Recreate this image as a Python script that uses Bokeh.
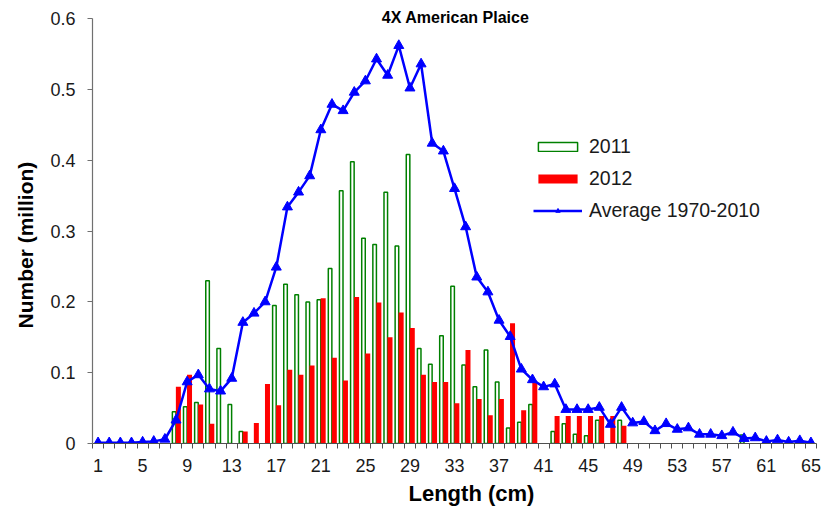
from bokeh.plotting import figure
from bokeh.models import ColumnDataSource, FixedTicker, Legend, LegendItem, Label, Range1d, Title
from bokeh.transform import dodge
from bokeh.embed import file_html
from bokeh.resources import INLINE

# ---------------- data ----------------
lengths = list(range(1, 66))

avg_1970_2010 = [0.001, 0.001, 0.001, 0.001, 0.002, 0.003, 0.006, 0.033, 0.087, 0.097,
                 0.077, 0.074, 0.092, 0.171, 0.184, 0.200, 0.249, 0.334, 0.355, 0.378,
                 0.443, 0.479, 0.470, 0.496, 0.512, 0.543, 0.520, 0.562, 0.502, 0.536,
                 0.424, 0.413, 0.360, 0.306, 0.235, 0.214, 0.174, 0.151, 0.105, 0.090,
                 0.080, 0.084, 0.048, 0.048, 0.048, 0.051, 0.027, 0.051, 0.029, 0.031,
                 0.018, 0.028, 0.020, 0.022, 0.013, 0.013, 0.011, 0.016, 0.007, 0.008,
                 0.003, 0.005, 0.002, 0.004, 0.001]

n_2011 = [0, 0, 0, 0, 0, 0, 0, 0.045, 0.052, 0.058,
          0.230, 0.134, 0.055, 0.017, 0, 0, 0.195, 0.225, 0.210, 0.200,
          0.203, 0.247, 0.357, 0.398, 0.290, 0.281, 0.355, 0.279, 0.408, 0.134,
          0.112, 0.152, 0.222, 0.111, 0.080, 0.132, 0.087, 0.022, 0.030, 0.055,
          0, 0.017, 0.028, 0.013, 0.011, 0.033, 0, 0.033, 0, 0,
          0, 0, 0, 0, 0, 0, 0, 0, 0.012, 0,
          0, 0, 0, 0, 0]

n_2012 = [0, 0, 0, 0, 0, 0, 0, 0.080, 0.097, 0.055,
          0.028, 0, 0, 0.017, 0.029, 0.084, 0.054, 0.104, 0.097, 0.110,
          0.205, 0.121, 0.089, 0.207, 0.127, 0.199, 0.150, 0.185, 0.163, 0.097,
          0.087, 0.087, 0.057, 0.132, 0.063, 0.040, 0.063, 0.170, 0.047, 0.087,
          0, 0.039, 0.039, 0.039, 0.039, 0.039, 0.039, 0.025, 0, 0,
          0, 0, 0, 0, 0, 0, 0, 0, 0, 0,
          0, 0, 0, 0, 0]

x_tick_labels = [1, 5, 9, 13, 17, 21, 25, 29, 33, 37, 41, 45, 49, 53, 57, 61, 65]
y_ticks = [0, 0.1, 0.2, 0.3, 0.4, 0.5, 0.6]

title_text = "4X American Plaice"
x_title = "Length (cm)"
y_title = "Number (million)"
series_names = ["2011", "2012", "Average 1970-2010"]

FONT = "Liberation Sans"

# ---------------- figure ----------------
p = figure(width=821, height=512, output_backend="svg", toolbar_location=None,
           x_range=Range1d(0.5, 65.5), y_range=Range1d(0, 0.62),
           min_border_left=92, min_border_right=5, min_border_top=4, min_border_bottom=69)
p.outline_line_color = None
p.xgrid.grid_line_color = None
p.ygrid.grid_line_color = None
p.background_fill_color = "white"
p.border_fill_color = "white"

src11 = ColumnDataSource(dict(
    x=[l for l, v in zip(lengths, n_2011) if v > 0],
    top=[v for v in n_2011 if v > 0]))
src12 = ColumnDataSource(dict(
    x=[l for l, v in zip(lengths, n_2012) if v > 0],
    top=[v for v in n_2012 if v > 0]))

r11 = p.vbar(x=dodge("x", -0.17, range=p.x_range), top="top", width=0.32, source=src11,
             fill_color="white", line_color="#008000", line_width=1.5)
r12 = p.vbar(x=dodge("x", 0.21, range=p.x_range), top="top", width=0.45, source=src12,
             fill_color="#FF0000", line_color=None)

rl = p.line(lengths, avg_1970_2010, line_color="#0000FF", line_width=2.5)
rs = p.scatter(lengths, avg_1970_2010, marker="triangle", size=10,
               fill_color="#0000FF", line_color="#0000FF")

legend = Legend(items=[LegendItem(label=series_names[0], renderers=[r11]),
                       LegendItem(label=series_names[1], renderers=[r12]),
                       LegendItem(label=series_names[2], renderers=[rl, rs])],
                location=(441, 221), orientation="vertical",
                glyph_width=49, glyph_height=11, label_height=20, spacing=9,
                padding=0, margin=0, label_standoff=7,
                label_text_font=FONT, label_text_font_size="19.5px",
                label_text_color="#1a1a1a",
                border_line_color=None, background_fill_alpha=0)
p.add_layout(legend)

# title inside the plot area
p.add_layout(Label(x=33.1, y=0.6, text=title_text, text_align="center",
                   text_baseline="middle", y_offset=1,
                   text_font=FONT, text_font_size="16px", text_font_style="bold",
                   text_color="black"))

# x axis
xa = p.xaxis[0]
xa.ticker = FixedTicker(ticks=x_tick_labels, minor_ticks=[i + 0.5 for i in range(0, 66)])
xa.axis_line_color = "#505050"
xa.axis_line_width = 1.2
xa.major_tick_out = 0
xa.major_tick_in = 0
xa.minor_tick_out = 5
xa.minor_tick_in = 0
xa.minor_tick_line_color = "#505050"
xa.major_label_standoff = 10
xa.major_label_text_font = FONT
xa.major_label_text_font_size = "18px"
xa.major_label_text_color = "#1a1a1a"

# y axis
ya = p.yaxis[0]
ya.ticker = FixedTicker(ticks=y_ticks, minor_ticks=[])
ya.bounds = (0, 0.6)
ya.axis_line_color = "#707070"
ya.axis_line_width = 1.2
ya.major_tick_out = 5
ya.major_tick_in = 0
ya.major_tick_line_color = "#707070"
ya.minor_tick_out = 0
ya.minor_tick_in = 0
ya.major_label_overrides = {0: "0"}
ya.major_label_standoff = 12
ya.major_label_text_font = FONT
ya.major_label_text_font_size = "18px"
ya.major_label_text_color = "#1a1a1a"

# axis titles (as side titles so they can be offset like the original)
p.add_layout(Title(text=x_title, align="left", offset=316, standoff=8,
                   text_font=FONT, text_font_size="22px", text_font_style="bold",
                   text_color="black"), "below")
p.add_layout(Title(text=y_title, align="left", offset=115, standoff=22,
                   text_font=FONT, text_font_size="21px", text_font_style="bold",
                   text_color="black"), "left")

open("out.html", "w").write(file_html(p, INLINE))
